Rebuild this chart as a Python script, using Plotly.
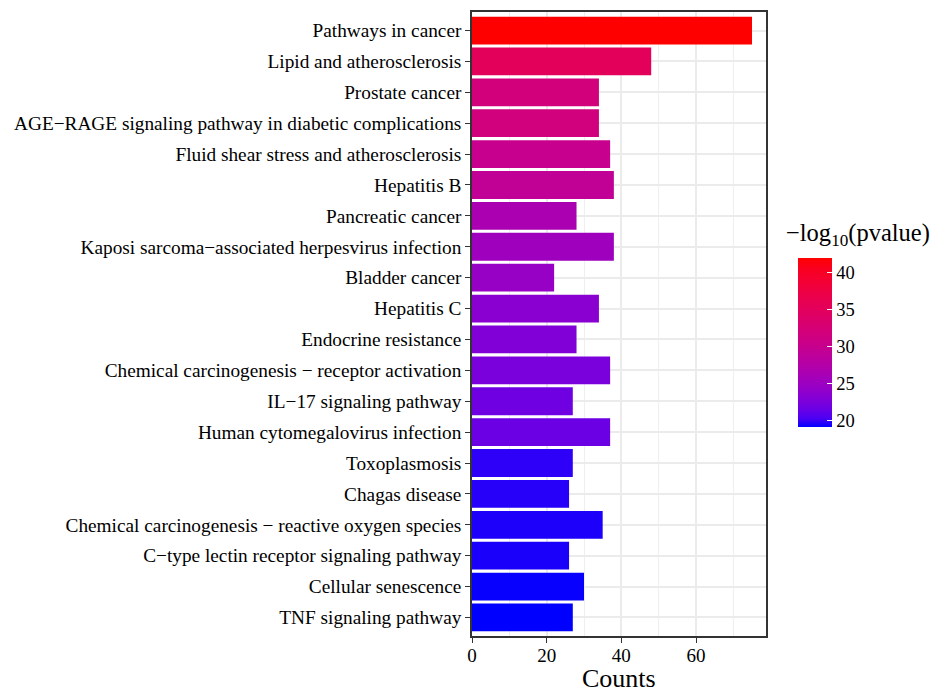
import plotly.graph_objects as go

# ---------------- data ----------------
pathways = [
    "Pathways in cancer",
    "Lipid and atherosclerosis",
    "Prostate cancer",
    "AGE\u2212RAGE signaling pathway in diabetic complications",
    "Fluid shear stress and atherosclerosis",
    "Hepatitis B",
    "Pancreatic cancer",
    "Kaposi sarcoma\u2212associated herpesvirus infection",
    "Bladder cancer",
    "Hepatitis C",
    "Endocrine resistance",
    "Chemical carcinogenesis \u2212 receptor activation",
    "IL\u221217 signaling pathway",
    "Human cytomegalovirus infection",
    "Toxoplasmosis",
    "Chagas disease",
    "Chemical carcinogenesis \u2212 reactive oxygen species",
    "C\u2212type lectin receptor signaling pathway",
    "Cellular senescence",
    "TNF signaling pathway",
]
counts = [75, 48, 34, 34, 37, 38, 28, 38, 22, 34, 28, 37, 27, 37, 27, 26, 35, 26, 30, 27]
neg_log10_p = [42.0, 35.1, 31.9, 31.7, 30.1, 29.2, 26.4, 25.3, 24.6, 23.5,
               22.8, 22.4, 21.8, 21.6, 19.8, 19.7, 19.55, 19.5, 19.2, 19.1]
x_ticks = [0, 20, 40, 60]
cbar_ticks = [20, 25, 30, 35, 40]

# ---------------- Lab colour ramp (blue -> red, like ggplot) ----------------
WHITE = (0.95047, 1.0, 1.08883)

def _lin(c):
    c = c / 255.0
    return c / 12.92 if c <= 0.04045 else ((c + 0.055) / 1.055) ** 2.4

def _gam(c):
    c = max(0.0, min(1.0, c))
    return 12.92 * c if c <= 0.0031308 else 1.055 * c ** (1 / 2.4) - 0.055

def rgb2lab(rgb):
    r, g, b = (_lin(v) for v in rgb)
    X = (0.4124 * r + 0.3576 * g + 0.1805 * b) / WHITE[0]
    Y = (0.2126 * r + 0.7152 * g + 0.0722 * b) / WHITE[1]
    Z = (0.0193 * r + 0.1192 * g + 0.9505 * b) / WHITE[2]
    f = lambda t: t ** (1 / 3) if t > 0.008856 else 7.787 * t + 16 / 116
    fx, fy, fz = f(X), f(Y), f(Z)
    return (116 * fy - 16, 500 * (fx - fy), 200 * (fy - fz))

def lab2rgb(lab):
    L, a, b = lab
    fy = (L + 16) / 116
    fx = fy + a / 500
    fz = fy - b / 200
    finv = lambda t: t ** 3 if t ** 3 > 0.008856 else (t - 16 / 116) / 7.787
    X, Y, Z = finv(fx) * WHITE[0], finv(fy) * WHITE[1], finv(fz) * WHITE[2]
    r = 3.2406 * X - 1.5372 * Y - 0.4986 * Z
    g = -0.9689 * X + 1.8758 * Y + 0.0415 * Z
    bb = 0.0557 * X - 0.2040 * Y + 1.0570 * Z
    return tuple(int(round(_gam(v) * 255)) for v in (r, g, bb))

lab_lo = rgb2lab((0, 0, 255))
lab_hi = rgb2lab((255, 0, 0))
n_stops = 21
colorscale = []
for i in range(n_stops):
    t = i / (n_stops - 1)
    lab = tuple(lo + (hi - lo) * t for lo, hi in zip(lab_lo, lab_hi))
    r, g, b = lab2rgb(lab)
    colorscale.append([t, f"rgb({r},{g},{b})"])

# ---------------- figure ----------------
FONT = "Liberation Serif, Times New Roman, serif"
W, H = 937, 692
L_M, R_M, T_M, B_M = 472, 171, 12, 56
plot_w = W - L_M - R_M
plot_h = H - T_M - B_M

def px_x(px):
    return (px - L_M) / plot_w

def px_y(py):
    return 1 - (py - T_M) / plot_h

cb_top, cb_bot = 257.7, 426.7
cb_len = cb_bot - cb_top

fig = go.Figure()
fig.add_trace(go.Bar(
    x=counts,
    y=pathways,
    orientation="h",
    width=0.9,
    marker=dict(
        color=neg_log10_p,
        colorscale=colorscale,
        cmin=min(neg_log10_p),
        cmax=max(neg_log10_p),
        line=dict(width=0),
        colorbar=dict(
            thickness=34,
            len=cb_len,
            lenmode="pixels",
            x=px_x(798),
            xanchor="left",
            y=px_y((cb_top + cb_bot) / 2),
            yanchor="middle",
            xpad=0,
            ypad=0,
            outlinewidth=0,
            tickvals=cbar_ticks,
            ticks="inside",
            ticklen=5,
            tickcolor="white",
            tickwidth=1,
            tickfont=dict(family=FONT, size=18.5, color="black"),
            ticklabelposition="outside",
        ),
    ),
    hoverinfo="x+y",
))

fig.add_annotation(
    text="\u2212log<sub>10</sub>(pvalue)",
    x=px_x(784), y=px_y(234),
    xref="paper", yref="paper",
    showarrow=False, font=dict(family=FONT, size=24.5, color="black"),
    xanchor="left", yanchor="middle",
)
fig.add_annotation(
    text="Counts",
    x=0.5, y=px_y(678),
    xref="paper", yref="paper",
    showarrow=False, font=dict(family=FONT, size=26, color="black"),
    xanchor="center", yanchor="middle",
    height=26, valign="middle",
)

fig.update_layout(
    width=W, height=H,
    margin=dict(l=L_M, r=R_M, t=T_M, b=B_M, pad=0, autoexpand=False),
    paper_bgcolor="white",
    plot_bgcolor="white",
    showlegend=False,
    font=dict(family=FONT, color="black"),
    bargap=0.1,
)
fig.update_xaxes(
    range=[0, max(counts) * 1.05],
    tickvals=x_ticks,
    automargin=False,
    showgrid=True, gridcolor="#EBEBEB", gridwidth=2,
    minor=dict(dtick=10, tick0=0, showgrid=True, gridcolor="#EFEFEF", gridwidth=1.2),
    zeroline=False,
    ticks="outside", ticklen=5, tickcolor="#333333", tickwidth=1.3,
    ticklabelstandoff=-4,
    tickfont=dict(family=FONT, size=19, color="black"),
    showline=True, linecolor="#333333", linewidth=1.5, mirror=True,
)
fig.update_yaxes(
    type="category",
    categoryorder="array",
    categoryarray=list(reversed(pathways)),
    range=[-0.6, len(pathways) - 0.4],
    automargin=False,
    showgrid=True, gridcolor="#EBEBEB", gridwidth=2,
    zeroline=False,
    ticks="outside", ticklen=5, tickcolor="#333333", tickwidth=1.3,
    tickfont=dict(family=FONT, size=19.3, color="black"),
    showline=True, linecolor="#333333", linewidth=1.5, mirror=True,
)

fig.write_html("out.html")
